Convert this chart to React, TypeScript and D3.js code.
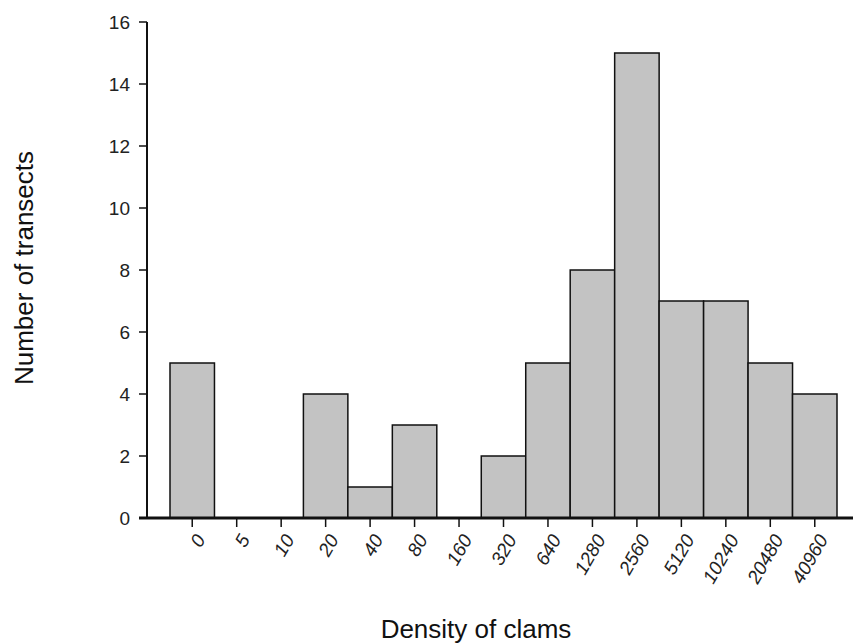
import React from "react";
import * as d3 from "d3";

const categories = ["0", "5", "10", "20", "40", "80", "160", "320", "640", "1280", "2560", "5120", "10240", "20480", "40960"];
const counts = [5, 0, 0, 4, 1, 3, 0, 2, 5, 8, 15, 7, 7, 5, 4];
const yTicks = [0, 2, 4, 6, 8, 10, 12, 14, 16];

const W = 853;
const H = 643;
const font = "'Liberation Sans', Arial, sans-serif";

export default function App() {
  const x = d3.scaleBand<string>().domain(categories).range([170, 837]).padding(0);
  const y = d3.scaleLinear().domain([0, 16]).range([518, 22]);
  const axisX = 147;

  return (
    <svg width={W} height={H} style={{ position: "absolute", left: 0, top: 0, background: "#fff" }}>
      {categories.map((c, i) =>
        counts[i] > 0 ? (
          <rect
            key={c}
            x={x(c)}
            y={y(counts[i])}
            width={x.bandwidth()}
            height={y(0) - y(counts[i])}
            fill="#c3c3c3"
            stroke="#111"
            strokeWidth={1.5}
          />
        ) : null
      )}

      {/* y axis */}
      <line x1={axisX} x2={axisX} y1={y(16)} y2={y(0)} stroke="#111" strokeWidth={2} />
      {yTicks.map((t) => (
        <g key={t} transform={`translate(0,${y(t)})`}>
          <line x1={axisX - 8} x2={axisX} stroke="#111" strokeWidth={1.5} />
          <text x={axisX - 17} dy="0.35em" textAnchor="end" fontFamily={font} fontSize={19} fill="#222">
            {t}
          </text>
        </g>
      ))}

      {/* x axis */}
      <line x1={axisX - 8} x2={W} y1={y(0)} y2={y(0)} stroke="#111" strokeWidth={3} />
      {categories.map((c) => {
        const cx = (x(c) ?? 0) + x.bandwidth() / 2;
        return (
          <g key={c}>
            <line x1={cx} x2={cx} y1={y(0)} y2={y(0) + 9} stroke="#111" strokeWidth={1.5} />
            <text
              transform={`translate(${cx + 8},${y(0) + 18}) rotate(-60)`}
              textAnchor="end"
              dy="0.35em"
              fontFamily={font}
              fontStyle="italic"
              fontSize={19}
              fill="#222"
            >
              {c}
            </text>
          </g>
        );
      })}

      <text x={476} y={638} textAnchor="middle" fontFamily={font} fontSize={26} fill="#111">
        Density of clams
      </text>
      <text
        transform={`translate(33,268) rotate(-90)`}
        textAnchor="middle"
        fontFamily={font}
        fontSize={26}
        fill="#111"
      >
        Number of transects
      </text>
    </svg>
  );
}
